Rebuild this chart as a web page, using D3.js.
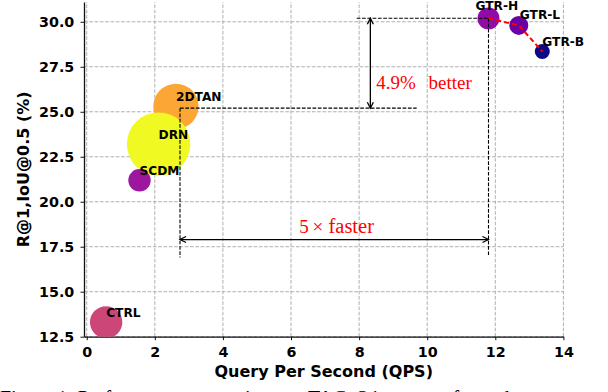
<!DOCTYPE html>
<html><head><meta charset="utf-8">
<script src="https://cdn.jsdelivr.net/npm/d3@7/dist/d3.min.js"></script>
<style>html,body{margin:0;padding:0;background:#fff;overflow:hidden;} svg{display:block;}</style>
</head><body>
<svg id="chart" width="608" height="392"></svg>
<script>
// ---- data ----
const models = ["CTRL", "SCDM", "DRN", "2DTAN", "GTR-H", "GTR-L", "GTR-B"];
const qps = [0.57, 1.55, 2.11, 2.62, 11.8, 12.69, 13.38];
const recall = [13.3, 21.19, 23.2, 25.3, 30.19, 29.8, 28.35];
const bubbleSize = [260, 125, 1000, 510, 120, 90, 56];
const bubbleColors = ["#cc4778", "#9c179e", "#f0f921", "#fca636", "#8f0da4", "#6a00a8", "#0d0887"];
const gtrFamily = ["GTR-H", "GTR-L", "GTR-B"];
const xTicks = [0, 2, 4, 6, 8, 10, 12, 14];
const yTicks = [12.5, 15, 17.5, 20, 22.5, 25, 27.5, 30];
const xTickLabels = ["0", "2", "4", "6", "8", "10", "12", "14"];
const yTickLabels = ["12.5", "15.0", "17.5", "20.0", "22.5", "25.0", "27.5", "30.0"];
const refQps = [2.74, 11.8];     // prior best speed vs GTR-H speed
const refRecall = [25.2, 30.2];  // prior best accuracy vs GTR-H accuracy
const betterText = ["4.9%", "better"];
const fasterText = ["5", "×", "faster"];

// ---- layout ----
const svg = d3.select("#chart");
const x = d3.scaleLinear().domain([-0.08, 14]).range([84, 563.4]);
const y = d3.scaleLinear().domain([12.5, 31.1]).range([336.7, 2]);
const r = d3.scaleSqrt().domain([0, 1000]).range([0, 31.7]);
const sans = "'DejaVu Sans', sans-serif";
const serif = "'Liberation Serif', 'Times New Roman', serif";

svg.append("defs").append("clipPath").attr("id", "plotclip")
  .append("rect").attr("x", x.range()[0]).attr("y", y.range()[1])
  .attr("width", x.range()[1] - x.range()[0] + 20).attr("height", y.range()[0] - y.range()[1]);

// grid
const grid = svg.append("g").attr("stroke", "#b0b0b0").attr("stroke-width", 1).attr("stroke-dasharray", "3.7,1.6");
grid.selectAll(".gx").data(xTicks).join("line")
  .attr("x1", d => x(d)).attr("x2", d => x(d)).attr("y1", y.range()[0]).attr("y2", y.range()[1]);
grid.selectAll(".gy").data(yTicks).join("line")
  .attr("y1", d => y(d)).attr("y2", d => y(d)).attr("x1", x.range()[0]).attr("x2", x.range()[1]);

// axes
const xAxis = d3.axisBottom(x).tickValues(xTicks).tickFormat((d, i) => xTickLabels[i]).tickSize(3.5).tickSizeOuter(0).tickPadding(6.5);
const yAxis = d3.axisLeft(y).tickValues(yTicks).tickFormat((d, i) => yTickLabels[i]).tickSize(3.5).tickSizeOuter(0).tickPadding(6.2);
const gx = svg.append("g").attr("transform", `translate(0,${y.range()[0]})`).call(xAxis);
const gy = svg.append("g").attr("transform", `translate(${x.range()[0]},0)`).call(yAxis);
[gx, gy].forEach(g => {
  g.select(".domain").attr("stroke", "#111").attr("stroke-width", 1.3);
  g.selectAll(".tick line").attr("stroke", "#111").attr("stroke-width", 1);
  g.selectAll(".tick text").attr("font-family", sans).attr("font-weight", "bold").attr("font-size", 14.3).attr("fill", "#000");
});

// axis titles
svg.append("text").attr("x", (x.range()[0] + x.range()[1]) / 2).attr("y", 377)
  .attr("text-anchor", "middle").attr("font-family", sans).attr("font-weight", "bold").attr("font-size", 16)
  .text("Query Per Second (QPS)");
svg.append("text").attr("transform", `translate(28.5,${(y.range()[0] + y.range()[1]) / 2}) rotate(-90)`)
  .attr("text-anchor", "middle").attr("font-family", sans).attr("font-weight", "bold").attr("font-size", 16)
  .text("R@1,IoU@0.5 (%)");

// bubbles
const drawOrder = [0, 3, 2, 1, 4, 5, 6];
const plot = svg.append("g").attr("clip-path", "url(#plotclip)");
plot.selectAll("circle").data(drawOrder).join("circle")
  .attr("cx", i => x(qps[i])).attr("cy", i => y(recall[i])).attr("r", i => r(bubbleSize[i]))
  .attr("fill", i => bubbleColors[i]);

// reference dashed lines
const ref = svg.append("g").attr("stroke", "#000").attr("stroke-width", 1.1).attr("stroke-dasharray", "3.7,1.6").attr("fill", "none");
ref.append("line").attr("x1", x(7.93)).attr("x2", x(refQps[1])).attr("y1", y(refRecall[1])).attr("y2", y(refRecall[1]));
ref.append("line").attr("x1", x(refQps[1])).attr("x2", x(refQps[1])).attr("y1", y(refRecall[1])).attr("y2", y(17.0));
ref.append("line").attr("x1", x(refQps[0])).attr("x2", x(9.69)).attr("y1", y(refRecall[0])).attr("y2", y(refRecall[0]));
ref.append("line").attr("x1", x(refQps[0])).attr("x2", x(refQps[0])).attr("y1", y(refRecall[0])).attr("y2", y(16.9));

// GTR family red dashed line
const gtrIdx = gtrFamily.map(n => models.indexOf(n));
svg.append("path")
  .attr("d", d3.line().x(i => x(qps[i])).y(i => y(recall[i]))(gtrIdx))
  .attr("fill", "none").attr("stroke", "#ff0000").attr("stroke-width", 2).attr("stroke-dasharray", "5,3");

// double arrows
function dblArrow(x1, y1, x2, y2) {
  const g = svg.append("g").attr("stroke", "#000").attr("stroke-width", 1.3).attr("fill", "none");
  g.append("line").attr("x1", x1).attr("y1", y1).attr("x2", x2).attr("y2", y2);
  const ang = Math.atan2(y2 - y1, x2 - x1), L = 6, W = 3;
  [[x1, y1, ang], [x2, y2, ang + Math.PI]].forEach(([px, py, a]) => {
    const bx = px + L * Math.cos(a), by = py + L * Math.sin(a);
    const nx = -Math.sin(a) * W, ny = Math.cos(a) * W;
    g.append("path").attr("d", `M${bx + nx},${by + ny}L${px},${py}L${bx - nx},${by - ny}`);
  });
}
dblArrow(x(8.33), y(refRecall[1]), x(8.33), y(refRecall[0]));
dblArrow(x(refQps[0]), y(17.9), x(refQps[1]), y(17.9));

// red annotation text
const red = svg.append("g").attr("fill", "#ff0000").attr("font-family", serif).attr("font-size", 19);
red.append("text").attr("x", x(8.5)).attr("y", y(26.24)).text(betterText[0]);
red.append("text").attr("x", x(10.04)).attr("y", y(26.24)).text(betterText[1]);
red.append("text").attr("x", x(6.24)).attr("y", y(18.24)).text(fasterText[0]);
red.append("text").attr("x", x(6.63)).attr("y", y(18.24)).text(fasterText[1]);
red.append("text").attr("x", x(7.1)).attr("y", y(18.24)).attr("font-size", 20.5).text(fasterText[2]);

// bubble labels
const labelShift = {"GTR-H": [-13, -8], "GTR-L": [1, -6]};
svg.append("g").selectAll("text").data(models).join("text")
  .attr("x", (d, i) => x(qps[i]) + (labelShift[d] ? labelShift[d][0] : 0))
  .attr("y", (d, i) => y(recall[i]) + (labelShift[d] ? labelShift[d][1] : -5))
  .attr("font-family", sans).attr("font-weight", "bold").attr("font-size", 12.2).attr("fill", "#000")
  .text(d => d);

// cut-off caption at the bottom of the page (only the tops of the glyphs are visible)
svg.append("text").attr("x", 0).attr("y", 405).attr("font-family", serif).attr("font-size", 20).attr("fill", "#000")
  .text("Figure 1: Performance comparison on TACoS in terms of speed");
</script>
</body></html>
